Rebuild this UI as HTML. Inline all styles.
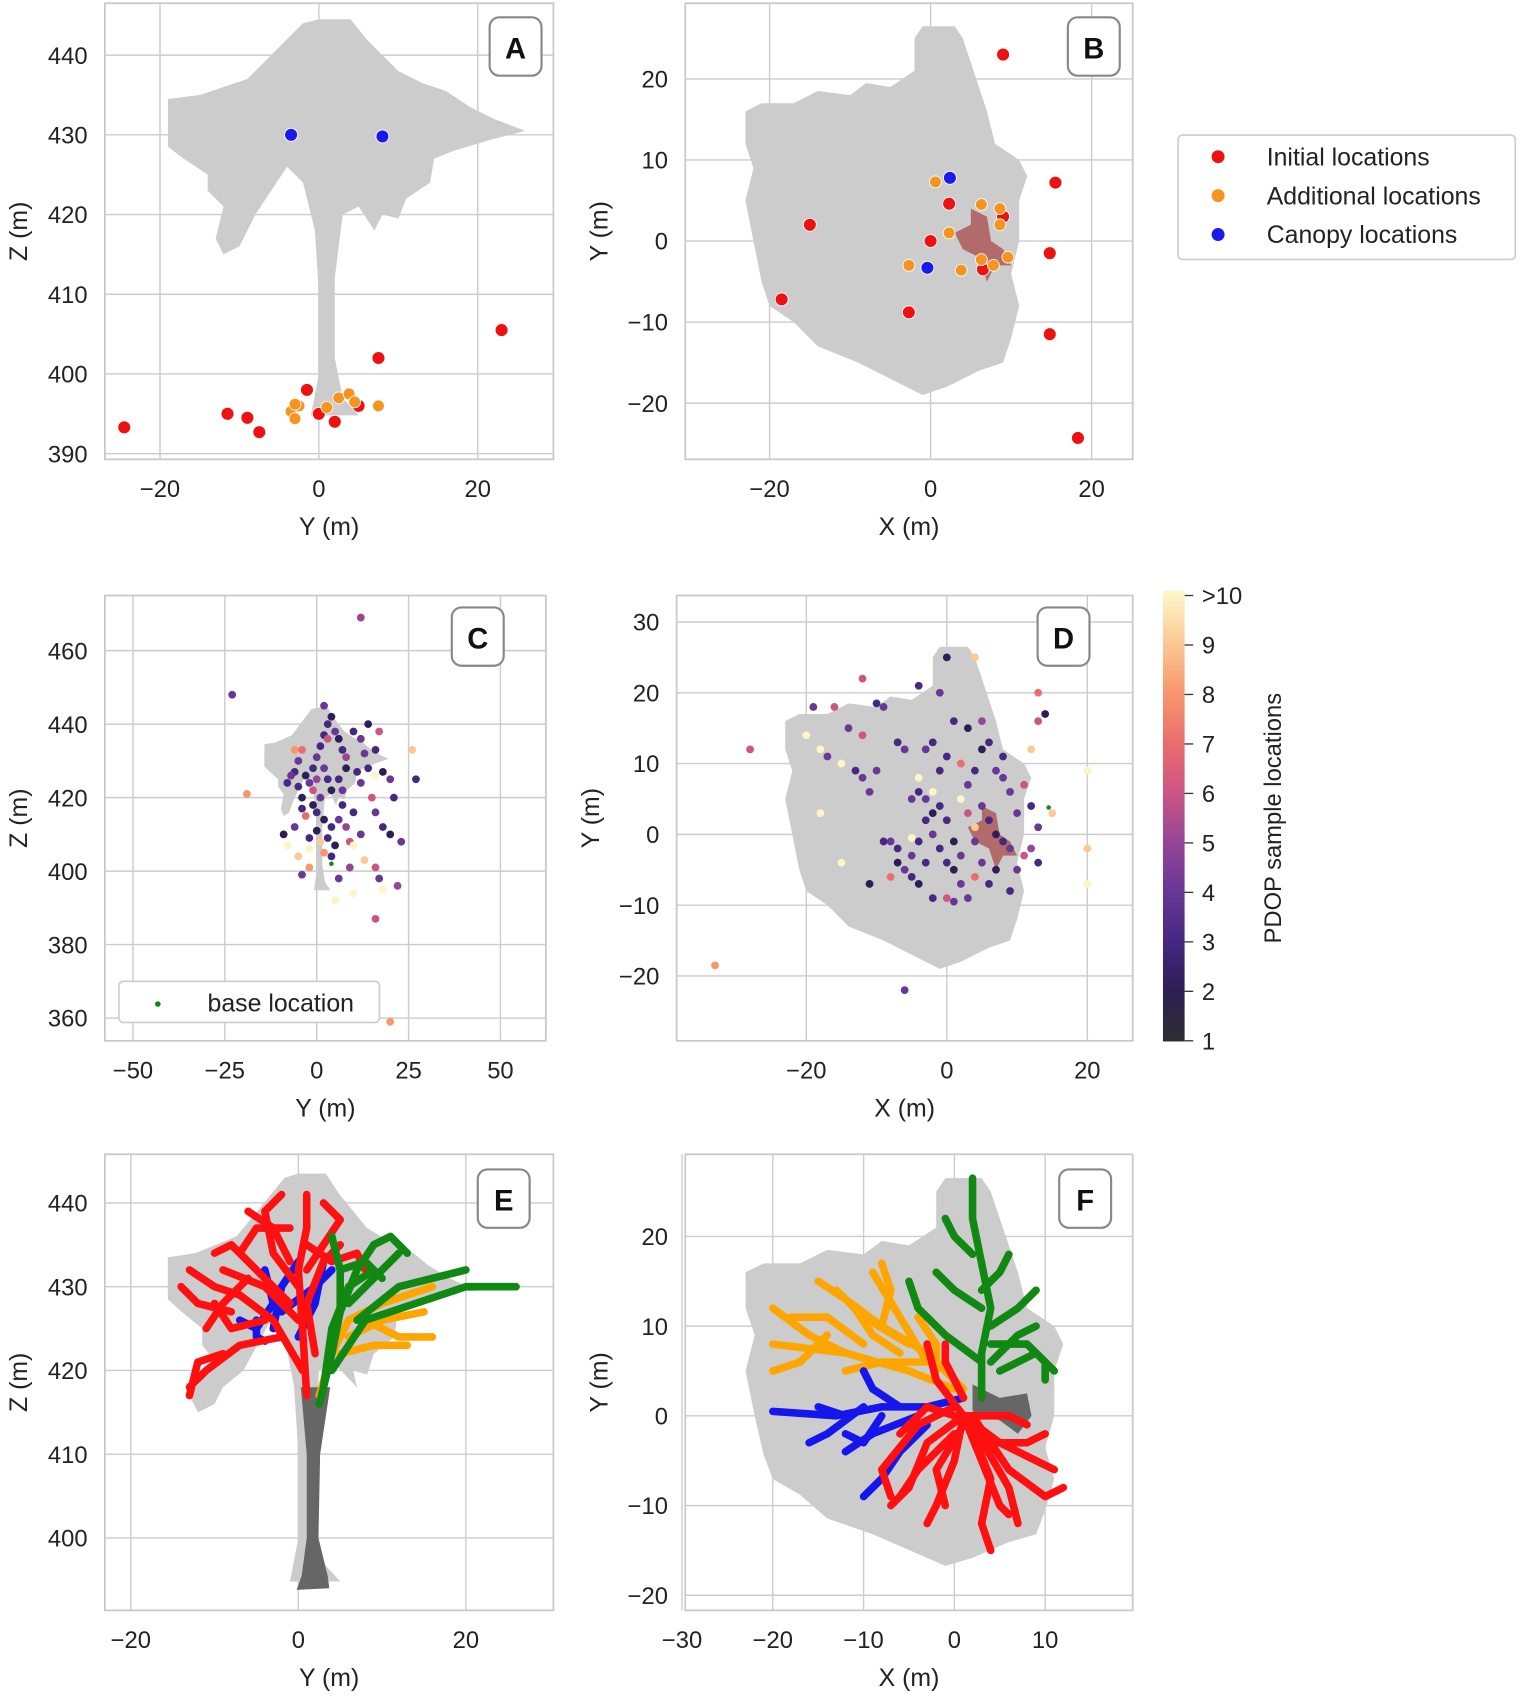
<!DOCTYPE html>
<html><head><meta charset="utf-8">
<style>
html,body{margin:0;padding:0;background:#fff;}
svg{display:block;font-family:"Liberation Sans",Arial,sans-serif;}
</style></head>
<body>
<svg id="fig" width="1524" height="1699" viewBox="0 0 1410 1572" xmlns="http://www.w3.org/2000/svg"></svg>
<script>
// ---------- DATA ----------
// Panel A (Y, Z)
const aInitial = [[-24.5,393.3],[-11.5,395],[-9,394.5],[-7.5,392.7],[-1.5,398],[0,395],[2,394],[7.5,402],[23,405.5],[5,396]];
const aAdditional = [[-3.5,395.3],[-3,394.4],[-2.5,396],[1,395.8],[2.5,397],[3.8,397.5],[4.5,396.5],[7.5,396],[-3,396.2]];
const aCanopy = [[-3.5,430],[8,429.8]];
// Panel B (X, Y)
const bInitial = [[9,23],[15.5,7.2],[-15,2],[2.3,4.6],[0,0],[9,3],[14.8,-1.5],[6.5,-3.5],[-18.5,-7.2],[-2.7,-8.8],[14.8,-11.5],[18.3,-24.3]];
const bAdditional = [[0.6,7.3],[6.3,4.5],[8.6,4],[2.3,1],[8.6,2],[6.3,-2.3],[9.6,-2],[7.8,-3],[3.8,-3.6],[-2.7,-3]];
const bCanopy = [[2.4,7.8],[-0.4,-3.3]];
// Panel C (Y, Z, PDOP)
const cPoints = [[12,469,5],[-23,448,4],[-19,421,8],[26,433,9],[27,425,3],[-4,433,7],[-5,430,4],[-6,427,3],[-3,426,2],[-5,423,3],[-4,420,2],[-2,424,4],[-1,428,3],[0,431,4],[1,434,3],[2,437,3],[3,440,3],[2,445,4],[4,442,2],[5,438,4],[6,436,2],[7,433,3],[8,431,5],[10,438,3],[12,436,4],[13,432,4],[14,440,2],[16,433,3],[17,438,6],[11,427,3],[12,424,4],[14,428,3],[16,426,10],[18,427,2],[20,425,4],[21,420,3],[2,428,4],[3,425,3],[4,422,2],[1,420,4],[-1,418,2],[0,416,3],[2,414,2],[4,412,3],[6,414,4],[7,418,3],[8,412,5],[10,416,3],[12,410,4],[9,408,6],[15,420,6],[16,416,4],[18,412,3],[20,410,2],[23,408,4],[-9,410,2],[-6,412,4],[-3,415,7],[-2,409,3],[0,411,2],[3,409,3],[5,407,2],[2,405,8],[4,404,3],[6,398,4],[9,401,5],[-8,407,10],[-5,404,9],[-2,406,10],[1,408,9],[10,407,10],[13,403,9],[-4,399,4],[-2,401,8],[16,401,6],[17,398,4],[22,396,5],[18,395,10],[10,394,10],[5,392,10],[16,387,6],[20,359,8],[-1,422,6],[0,425,5],[-6,433,8],[3,436,6],[8,428,2],[6,425,3],[-7,426,4],[-8,424,3],[-4,417,3],[7,422,4]];
const cBase = [[4,402]];
// Panel D (X, Y, PDOP)
const dPoints = [[-33,-18.5,8],[-28,12,6],[-6,-22,4],[0,25,2],[4,25,9],[13,20,7],[13,16,6],[14,17,2],[12,12,9],[20,9,10],[20,-2,9],[20,-7,10],[15,3,9],[-19,18,4],[-16,18,6],[-12,22,6],[-10,18.5,3],[-9,18,4],[-4,21,3],[-1,20,4],[-20,14,10],[-14,15,4],[-12,14,6],[-18,12,10],[-17,11,4],[-15,10,10],[-13,9,3],[-12,8,4],[-10,9,4],[-11,6,4],[-7,13,3],[-6,12,4],[-3,12,4],[-2,13,3],[1,16,3],[3,15,2],[5,16,5],[-1,9,3],[0,11,3],[2,10,7],[3,7,4],[4,9,3],[5,12,2],[6,13,3],[7,9,4],[8,11,3],[8,8,4],[9,6,4],[10,3,4],[11,7,6],[12,4,3],[13,1,4],[12,-2,5],[13,-4,3],[11,-3,6],[10,-5,4],[9,-8,3],[6,-7,3],[7,-5,2],[5,-4,4],[4,-6,7],[2,-3,4],[1,-1,2],[0,2,3],[-1,4,3],[-2,3,2],[-3,5,4],[-4,6,3],[-5,5,4],[-3,2,3],[-2,0,4],[-1,-2,3],[0,-4,3],[1,-5,2],[2,-7,4],[3,-9,4],[-2,-9,3],[-4,-7,2],[-5,-6,3],[-6,-5,4],[-7,-2,3],[-8,-1,4],[-9,-1,3],[-7,-4,2],[-5,-3,4],[-3,-4,3],[-4,-1,3],[0,-9,6],[1,-9.5,4],[-11,-7,2],[-8,-6,7],[-15,-4,10],[-18,3,10],[-5,-0.5,10],[-4,8,10],[2,5,10],[4,1,9],[6,2,3],[7,0,2],[8,-1,3],[9,-2,4],[5,4,4],[3,3,6],[-2,6,10],[4,-1,4]];
const dBase = [[14.5,3.8]];
// colorbar
const cbTicks = ['1','2','3','4','5','6','7','8','9','>10'];

// ---------- HELPERS ----------
const NS='http://www.w3.org/2000/svg';
const svg=document.getElementById('fig');
function mk(tag,attrs,parent){const e=document.createElementNS(NS,tag);for(const k in attrs)e.setAttribute(k,attrs[k]);(parent||svg).appendChild(e);return e;}
function lin(d0,d1,p0,p1){return v=>p0+(v-d0)*(p1-p0)/(d1-d0);}

function panel(name,box,xs,ys,xt,yt,xlabel,ylabel,letter,lbox){
  const g=mk('g',{});
  
  
  const [x0,y0,x1,y1]=box;
  mk('rect',{x:x0,y:y0,width:x1-x0,height:y1-y0,fill:'#fff'},g);
  xt.forEach(t=>{const l=mk('line',{x1:xs(t),x2:xs(t),y1:y0,y2:y1,stroke:'#cccccc','stroke-width':1.3},g);
    const tx=mk('text',{x:xs(t),y:y1+35,'font-size':22,'text-anchor':'middle',fill:'#222'},g);tx.textContent=(t<0?'\u2212'+(-t):t);});
  yt.forEach(t=>{const l=mk('line',{x1:x0,x2:x1,y1:ys(t),y2:ys(t),stroke:'#cccccc','stroke-width':1.3},g);
    const tx=mk('text',{x:x0-16,y:ys(t)+8,'font-size':22,'text-anchor':'end',fill:'#222'},g);tx.textContent=(t<0?'\u2212'+(-t):t);});
  const xl=mk('text',{x:(x0+x1)/2,y:y1+70,'font-size':23,'text-anchor':'middle',fill:'#222'},g);xl.textContent=xlabel;
  
  const yx=x0-72, yy=(y0+y1)/2;
  const yl=mk('text',{x:yx,y:yy,'font-size':23,'text-anchor':'middle',fill:'#222',transform:`rotate(-90 ${yx} ${yy})`},g);yl.textContent=ylabel;
  
  const content=mk('g',{},g);
  const fr=mk('rect',{x:x0,y:y0,width:x1-x0,height:y1-y0,fill:'none',stroke:'#c8c8c8','stroke-width':1.6});
  
  const lb=mk('rect',{x:lbox[0],y:lbox[1],width:48,height:54,rx:9,fill:'#fff',stroke:'#888','stroke-width':2});
  
  const lt=mk('text',{x:lbox[0]+24,y:lbox[1]+38,'font-size':27,'font-weight':'bold','text-anchor':'middle',fill:'#111'});lt.textContent=letter;
  
  return content;
}
function poly(g,pts,xs,ys,fill,name){const p=mk('polygon',{points:pts.map(q=>xs(q[0])+','+ys(q[1])).join(' '),fill:fill},g);return p;}
function dots(g,arr,xs,ys,r,fill,name){arr.forEach(q=>{const c=mk('circle',{cx:xs(q[0]),cy:ys(q[1]),r:r,fill:fill,stroke:'#fff','stroke-width':0.8},g);});}
function path(g,pts,xs,ys,col,w,name){const p=mk('polyline',{points:pts.map(q=>xs(q[0])+','+ys(q[1])).join(' '),fill:'none',stroke:col,'stroke-width':w,'stroke-linecap':'round','stroke-linejoin':'round'},g);}

const cmapStops=[[1,[45,45,50]],[2,[45,30,85]],[3,[70,40,130]],[4,[105,55,150]],[5,[150,70,150]],[6,[205,85,130]],[7,[235,110,110]],[8,[248,150,110]],[9,[252,200,150]],[10,[253,245,200]]];
function cmap(v){v=Math.max(1,Math.min(10,v));for(let i=0;i<cmapStops.length-1;i++){const [a,ca]=cmapStops[i],[b,cb]=cmapStops[i+1];if(v<=b){const t=(v-a)/(b-a);return 'rgb('+ca.map((c,j)=>Math.round(c+(cb[j]-c)*t)).join(',')+')';}}return 'rgb(253,245,200)';}

// silhouettes (side & top views)
const sideShape=[[-19,434.5],[-15,435],[-12,436],[-9,437],[-6,440],[-4,442],[-2,444],[0,444.5],[4,444.5],[6,442],[8,440],[10,438],[13,436.5],[16,435.5],[19,433.5],[22,432],[26,430.5],[22,429.5],[17,428],[14.5,427],[14,424],[11,422],[10,419.5],[8,420],[7,418],[5,421],[3,420],[2,412],[2,402],[3,397],[5,394.8],[-1,394.8],[0,400],[0,410],[-0.5,418],[-2,424],[-4,426],[-6,423],[-8,420],[-9,418],[-10,416],[-12,415],[-13,417],[-12,421],[-14,423],[-14,425],[-17,427],[-19,428.5]];
const topShape=[[-1,26.5],[-2,25],[-2,21],[-5,19],[-8,19.5],[-10,18],[-14,18.5],[-17,17],[-21,17],[-23,16],[-23,12],[-22,9],[-23,5],[-22,0],[-21,-5],[-20,-8],[-17,-10],[-14,-13],[-9,-15],[-5,-17],[-1,-19],[2,-18],[6,-16],[9,-15],[10,-12],[11,-8],[10,-4],[11,0],[11,5],[12,8],[11,10],[8,12],[7,16],[6,19],[5,22],[4,25],[3,26.5]];
const redBlob=[[5,4],[7,3],[7.5,0],[9,-1],[10,-3],[8,-3],[7,-5],[6,-2],[4,-1],[3,1],[5,2]];

// ---------- PANEL A ----------
{const xs=lin(0,20,295,442),ys=lin(400,440,346,51);
 const g=panel('panel-a',[97,3,512,425],xs,ys,[-20,0,20],[390,400,410,420,430,440],'Y (m)','Z (m)','A',[453,16]);
 poly(g,sideShape,xs,ys,'#cccccc','tree-silhouette');
 dots(g,aInitial,xs,ys,6,'#ee1111','initial-location');
 dots(g,aAdditional,xs,ys,5.5,'#f7931e','additional-location');
 dots(g,aCanopy,xs,ys,6,'#1a1aee','canopy-location');}
// ---------- PANEL B ----------
{const xs=lin(0,20,861,1010),ys=lin(0,20,223,73);
 const g=panel('panel-b',[634,3,1048,425],xs,ys,[-20,0,20],[-20,-10,0,10,20],'X (m)','Y (m)','B',[988,16]);
 poly(g,topShape,xs,ys,'#cccccc','tree-silhouette');
 poly(g,redBlob,xs,ys,'#b36a6a','stem-footprint');
 dots(g,bInitial,xs,ys,6,'#ee1111','initial-location');
 dots(g,bAdditional,xs,ys,5.5,'#f7931e','additional-location');
 dots(g,bCanopy,xs,ys,6,'#1a1aee','canopy-location');}
// legend AB
{const lg=mk('g',{});
 mk('rect',{x:1090,y:125,width:312,height:115,rx:4,fill:'#fff',stroke:'#cccccc','stroke-width':1.5},lg);
 [['Initial locations','#ee1111'],['Additional locations','#f7931e'],['Canopy locations','#1a1aee']].forEach((e,i)=>{
  const c=mk('circle',{cx:1127,cy:145+36*i,r:6,fill:e[1]},lg);
  const t=mk('text',{x:1172,y:153+36*i,'font-size':23,fill:'#222'},lg);t.textContent=e[0];});}
// ---------- PANEL C ----------
{const xs=lin(0,50,293,463),ys=lin(400,460,806,602);
 const g=panel('panel-c',[97,551,505,963],xs,ys,[-50,-25,0,25,50],[360,380,400,420,440,460],'Y (m)','Z (m)','C',[418,562]);
 const cs=sideShape.map(q=>[q[0]*0.75,q[1]]);
 poly(g,cs,xs,ys,'#cccccc','tree-silhouette');
 cPoints.forEach(q=>{const c=mk('circle',{cx:xs(q[0]),cy:ys(q[1]),r:3.6,fill:cmap(q[2])},g);});
 dots(g,cBase,xs,ys,2.5,'#118811','base-location');
 const lg=mk('g',{});
 mk('rect',{x:110,y:908,width:241,height:38,rx:4,fill:'#fff',stroke:'#cccccc','stroke-width':1.5},lg);
 mk('circle',{cx:146,cy:929,r:2.6,fill:'#118811'},lg);
 const t=mk('text',{x:192,y:936,'font-size':23,fill:'#222'},lg);t.textContent='base location';}
// ---------- PANEL D ----------
{const xs=lin(0,20,876,1006),ys=lin(0,20,772,641);
 const g=panel('panel-d',[626,551,1048,963],xs,ys,[-20,0,20],[-20,-10,0,10,20,30],'X (m)','Y (m)','D',[960,562]);
 poly(g,topShape,xs,ys,'#cccccc','tree-silhouette');
 poly(g,redBlob,xs,ys,'#b36a6a','stem-footprint');
 dPoints.forEach(q=>{const c=mk('circle',{cx:xs(q[0]),cy:ys(q[1]),r:3.6,fill:cmap(q[2])},g);});
 dots(g,dBase,xs,ys,2.5,'#118811','base-location');}
// colorbar
{const cb=mk('g',{});
 const ys=lin(1,10,963,551);
 for(let v=1;v<10;v+=0.1){mk('rect',{x:1076,y:ys(v+0.1),width:20,height:ys(v)-ys(v+0.1)+0.6,fill:cmap(v)},cb);}
 cbTicks.forEach((t,i)=>{const y=ys(i+1);mk('line',{x1:1096,x2:1104,y1:y,y2:y,stroke:'#333','stroke-width':1.2},cb);
  const tx=mk('text',{x:1112,y:y+8,'font-size':22,fill:'#222'},cb);tx.textContent=t;});
 const l=mk('text',{x:1185,y:757,'font-size':22,'text-anchor':'middle',fill:'#222',transform:'rotate(-90 1185 757)'},cb);l.textContent='PDOP sample locations';
 }
// ---------- PANEL E ----------
{const xs=lin(0,20,276,431),ys=lin(400,440,1423,1113);
 const g=panel('panel-e',[97,1068,512,1490],xs,ys,[-20,0,20],[400,410,420,430,440],'Y (m)','Z (m)','E',[442,1082]);
 const es=sideShape.map(q=>[q[0]*(q[1]>418?0.82:1),q[1]-(q[1]>430?1:0)]);
 poly(g,es,xs,ys,'#cccccc','tree-silhouette');
 poly(g,[[0.3,418],[3.8,418],[2.6,410],[2.4,400],[3.5,395.5],[3.7,394],[-0.2,393.8],[0.4,395.5],[1,400],[1,410]],xs,ys,'#666666','stem');
 const R='#ff1010',G='#118811',B='#1515ee',O='#ffa500',W=7;
 [[[-7,426],[-5,425],[-3,428],[-4,432]],[[-5,426],[-5,424],[-4,423.5]],[[-3,425],[-2,430],[0,433]],[[3,433],[2,428],[0,424]],[[-2,427],[2,430],[4,432]]].forEach(p=>path(g,p,xs,ys,B,W,'branch-blue'));
 [[[2.5,417],[4,422],[6,426],[10,428],[16,430]],[[6,424],[10,426],[15,427]],[[8,426],[12,424],[16,424]],[[5,422],[9,423],[13,423]]].forEach(p=>path(g,p,xs,ys,O,W,'branch-orange'));
 [[[1,417],[0.5,425],[0,432],[1,437],[1,441]],[[0.5,420],[-3,426],[-7,429],[-10,430],[-13,432]],[[-2,424],[-7,423],[-11,420],[-13,418]],[[-1,428],[-5,432],[-8,435],[-10,434]],[[0,430],[-3,434],[-4,439],[-2,441]],[[1,432],[3,435],[5,438],[3,440]],[[-4,426],[-8,425],[-10,428]],[[-9,422],[-12,421],[-13,417]],[[1,435],[4,433],[7,434],[8,432]],[[-1,437],[-5,437],[-7,434]],[[-6,431],[-9,428],[-11,425]],[[-1,433],[-3,437],[-6,439]],[[0,426],[-4,430],[-9,432]],[[2,422],[1,428],[3,433],[5,435]],[[-8,427],[-12,428],[-14,430]]].forEach(p=>path(g,p,xs,ys,R,W,'branch-red'));
 [[[2.5,416],[4,422],[5,427],[7,432],[9,435]],[[4,420],[8,426],[14,428],[20,430],[26,430]],[[5,427],[5,432],[4,436]],[[6,428],[10,432],[12,434]],[[7,426],[12,430],[16,431],[20,432]],[[9,435],[11,436],[13,434]],[[5,432],[8,433],[10,431]],[[3,418],[4,425],[6,430],[9,432]]].forEach(p=>path(g,p,xs,ys,G,W,'branch-green'));}
// ---------- PANEL F ----------
{const xs=lin(0,10,883,967),ys=lin(0,10,1310,1227);
 const g=panel('panel-f',[634,1068,1048,1490],xs,ys,[-30,-20,-10,0,10],[-20,-10,0,10,20],'X (m)','Y (m)','F',[980,1082]);
 const fs=topShape.map(q=>[q[0],q[1]>0?q[1]:q[1]*0.88]);
 poly(g,fs,xs,ys,'#cccccc','tree-silhouette');
 poly(g,[[2,3.5],[5,2],[8,2.5],[8.5,0],[7,-2],[5,-0.5],[2,0.5]],xs,ys,'#666666','stem');
 const R='#ff1010',G='#118811',B='#1515ee',O='#ffa500',W=7;
 [[[1,3],[-3,7],[-8,10],[-12,13],[-15,15]],[[0,3],[-5,5],[-12,7],[-20,8]],[[-3,6],[-8,6],[-12,5]],[[-5,8],[-10,11],[-13,14]],[[-8,10],[-7,14],[-8,17]],[[-12,7],[-16,9],[-20,12]],[[-3,6],[-6,11],[-9,16]],[[-14,9],[-17,6],[-20,5]],[[-2,5],[-2,8],[-4,11]],[[-10,8],[-14,11],[-18,11]],[[-6,7],[-9,9],[-11,12]]].forEach(p=>path(g,p,xs,ys,O,W,'branch-orange'));
 [[[1,2],[-3,1],[-8,1],[-13,0],[-20,0.5]],[[-4,0],[-9,-2],[-12,-4]],[[-6,1],[-9,3],[-10,5]],[[-3,-1],[-6,-4],[-8,-7],[-10,-9]],[[-10,1],[-14,-2],[-16,-3]],[[-12,0],[-15,1]],[[-8,0],[-10,-3],[-12,-2]]].forEach(p=>path(g,p,xs,ys,B,W,'branch-blue'));
 [[[1,0],[-3,-3],[-5,-8],[-7,-10]],[[1,0],[0,-5],[-2,-10],[-3,-12]],[[1,0],[3,-5],[5,-10],[6,-11]],[[1,0],[5,-3],[9,-5],[11,-6]],[[2,0],[6,-6],[10,-9],[12,-8]],[[1,0],[-2,4],[-3,8]],[[0,1],[-4,-1],[-8,-6],[-7,-9]],[[1,0],[6,0],[8,-1]],[[2,-2],[4,-7],[3,-12],[4,-15]],[[0,-2],[-4,-6],[-6,-9]],[[1,2],[-1,6],[-1,8]],[[3,-3],[8,-3],[10,-2]],[[1,-1],[-2,-6],[-1,-10]],[[2,-1],[6,-8],[7,-12]],[[0,0],[-3,1],[-6,-2]]].forEach(p=>path(g,p,xs,ys,R,W,'branch-red'));
 [[[3,2],[3,7],[4,12],[3,17],[2,22],[2,26.5]],[[3,6],[-1,9],[-4,12],[-5,15]],[[4,10],[7,12],[9,14]],[[4,8],[8,8],[10,6],[10,4]],[[3,12],[0,14],[-2,16]],[[5,5],[9,7],[11,5]],[[2,18],[0,20],[-1,22]],[[3,14],[5,16],[6,18]],[[4,6],[7,9],[9,10]]].forEach(p=>path(g,p,xs,ys,G,W,'branch-green'));}
</script>
</body></html>
